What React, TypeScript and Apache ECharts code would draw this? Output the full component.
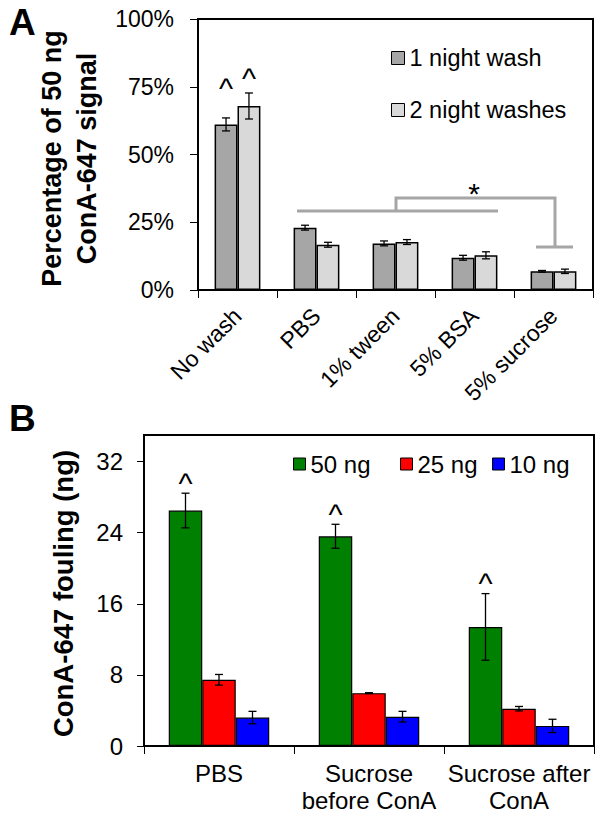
import React, { useEffect, useRef } from 'react';
import * as echarts from 'echarts';

const FONT = '"Liberation Sans", Arial, Helvetica, sans-serif';

// ---- Panel A data ----
const categoriesA = ['No wash', 'PBS', '1% tween', '5% BSA', '5% sucrose'];
const seriesNamesA = ['1 night wash', '2 night washes'];
const oneNightWash = [61.1, 23.0, 17.2, 11.9, 6.9];
const oneNightWashErr = [2.4, 0.9, 0.9, 0.9, 0.3];
const twoNightWashes = [67.9, 16.7, 17.7, 12.8, 6.9];
const twoNightWashesErr = [4.8, 0.9, 0.9, 1.3, 0.8];
const caretOneNight = [1, 0, 0, 0, 0];
const caretTwoNight = [1, 0, 0, 0, 0];
const yTicksA = [0, 25, 50, 75, 100];

// ---- Panel B data ----
const categoriesB = ['PBS', 'Sucrose\nbefore ConA', 'Sucrose after\nConA'];
const seriesNamesB = ['50 ng', '25 ng', '10 ng'];
const ng50 = [26.5, 23.6, 13.4];
const ng50Err = [1.95, 1.35, 3.75];
const ng25 = [7.45, 5.95, 4.2];
const ng25Err = [0.6, 0.05, 0.25];
const ng10 = [3.2, 3.3, 2.26];
const ng10Err = [0.7, 0.6, 0.75];
const caret50 = [1, 1, 1];
const caret25 = [0, 0, 0];
const caret10 = [0, 0, 0];
const yTicksB = [0, 8, 16, 24, 32];

const GAP_A = 0.42;
const GAP_B = 0.33;
const LEGEND_B_LEFT = [293, 400, 492];

function makeRender(gapFrac: number, lift: (si: number) => number) {
  return (params: any, api: any) => {
    const ci = api.value(0);
    const v = api.value(1);
    const e = api.value(2);
    const si = api.value(3);
    const n = api.value(4);
    const caret = api.value(5);
    const c = api.coord([ci, v]);
    const bandW = api.size([1, 0])[0];
    const groupW = bandW * (1 - gapFrac);
    const bw = groupW / n;
    const x = c[0] - groupW / 2 + bw * (si + 0.5);
    const yTop = api.coord([ci, v + e])[1];
    const yBot = api.coord([ci, v - e])[1];
    const style = { stroke: '#000', lineWidth: 1.3 };
    const children: any[] = [
      { type: 'line', shape: { x1: x, y1: yTop, x2: x, y2: yBot }, style },
      { type: 'line', shape: { x1: x - 4, y1: yTop, x2: x + 4, y2: yTop }, style },
      { type: 'line', shape: { x1: x - 4, y1: yBot, x2: x + 4, y2: yBot }, style },
    ];
    if (caret) {
      children.push({
        type: 'text',
        x,
        y: yTop - lift(si) + 5,
        style: {
          text: '^',
          fill: '#000',
          font: `30px ${FONT}`,
          textAlign: 'center',
          textVerticalAlign: 'middle',
          align: 'center',
          verticalAlign: 'middle',
        },
      });
    }
    return { type: 'group', children };
  };
}

export default function App() {
  const ref = useRef<HTMLDivElement>(null);

  useEffect(() => {
    const chart = echarts.init(ref.current!, null, { renderer: 'svg' });

    const valsA = [oneNightWash, twoNightWashes];
    const errsA = [oneNightWashErr, twoNightWashesErr];
    const caretsA = [caretOneNight, caretTwoNight];
    const errDataA: number[][] = [];
    valsA.forEach((vals, si) =>
      vals.forEach((v, ci) => errDataA.push([ci, v, errsA[si][ci], si, 2, caretsA[si][ci]]))
    );

    const valsB = [ng50, ng25, ng10];
    const errsB = [ng50Err, ng25Err, ng10Err];
    const caretsB = [caret50, caret25, caret10];
    const errDataB: number[][] = [];
    valsB.forEach((vals, si) =>
      vals.forEach((v, ci) => errDataB.push([ci, v, errsB[si][ci], si, 3, caretsB[si][ci]]))
    );

    const colorsA = ['#a6a6a6', '#d9d9d9'];
    const colorsB = ['#008000', '#ff0000', '#0000ff'];

    const axisLine = { show: true, lineStyle: { color: '#000', width: 2 } };
    const tickStyle = { color: '#000', width: 1 };
    const labelBase = { color: '#000', fontFamily: FONT, fontSize: 23 };
    const grey = { stroke: '#a6a6a6', lineWidth: 3 };

    const legendBase = {
      orient: 'vertical',
      padding: 0,
      icon: 'rect',
      itemStyle: { borderColor: '#000', borderWidth: 1 },
      textStyle: { color: '#000', fontFamily: FONT, fontSize: 23.5, lineHeight: 22 },
    };

    const option: any = {
      animation: false,
      backgroundColor: '#fff',
      textStyle: { fontFamily: FONT },
      grid: [
        { left: 198, top: 19, width: 395, height: 271, show: true, borderColor: '#000', borderWidth: 2, outerBoundsMode: 'none', containLabel: false },
        { left: 144, top: 435, width: 450, height: 311, show: true, borderColor: '#000', borderWidth: 2, outerBoundsMode: 'none', containLabel: false },
      ],
      legend: [
        {
          ...legendBase,
          data: seriesNamesA,
          left: 391,
          top: 46,
          itemWidth: 13,
          itemHeight: 13,
          itemGap: 28,
        },
        ...seriesNamesB.map((name, i) => ({
          ...legendBase,
          data: [name],
          left: LEGEND_B_LEFT[i],
          top: 452,
          itemWidth: 12,
          itemHeight: 12,
          textStyle: { ...legendBase.textStyle, fontSize: 24 },
        })),
      ],
      xAxis: [
        {
          type: 'category',
          gridIndex: 0,
          data: categoriesA,
          axisLine,
          axisTick: { show: true, length: 8, lineStyle: tickStyle, interval: 0 },
          axisLabel: { ...labelBase, rotate: 45, interval: 0, margin: 22, padding: [31, 0, 0, 0] },
          splitLine: { show: false },
        },
        {
          type: 'category',
          gridIndex: 1,
          data: categoriesB,
          axisLine,
          axisTick: { show: true, length: 8, lineStyle: tickStyle, interval: 0 },
          axisLabel: { ...labelBase, fontSize: 24, interval: 0, margin: 14, lineHeight: 27 },
          splitLine: { show: false },
        },
      ],
      yAxis: [
        {
          type: 'value',
          gridIndex: 0,
          min: yTicksA[0],
          max: yTicksA[yTicksA.length - 1],
          interval: yTicksA[1] - yTicksA[0],
          axisLine,
          axisTick: { show: true, length: 8, lineStyle: tickStyle },
          axisLabel: { ...labelBase, margin: 24, formatter: (v: number) => `${v}%` },
          splitLine: { show: false },
          name: 'Percentage of 50 ng\nConA-647 signal',
          nameLocation: 'middle',
          nameGap: 82,
          nameTextStyle: { color: '#000', fontFamily: FONT, fontSize: 27, fontWeight: 'bold', lineHeight: 35, padding: [0, 8, 0, 0] },
        },
        {
          type: 'value',
          gridIndex: 1,
          min: 0,
          max: 35,
          interval: 8,
          axisLine,
          axisTick: { show: true, length: 7, lineStyle: tickStyle, customValues: yTicksB },
          axisLabel: {
            ...labelBase,
            fontSize: 24,
            margin: 21,
            customValues: yTicksB,
            formatter: (v: number) => (yTicksB.includes(v) ? String(v) : ''),
          },
          splitLine: { show: false },
          name: 'ConA-647 fouling (ng)',
          nameLocation: 'middle',
          nameGap: 66,
          nameTextStyle: { color: '#000', fontFamily: FONT, fontSize: 27.5, fontWeight: 'bold', lineHeight: 30, padding: [0, 6, 0, 0] },
        },
      ],
      series: [
        ...valsA.map((vals, si) => ({
          type: 'bar',
          name: seriesNamesA[si],
          xAxisIndex: 0,
          yAxisIndex: 0,
          data: vals,
          barGap: '0%',
          barCategoryGap: `${GAP_A * 100}%`,
          itemStyle: { color: colorsA[si], borderColor: '#000', borderWidth: 1.5 },
        })),
        {
          type: 'custom',
          name: 'errA',
          xAxisIndex: 0,
          yAxisIndex: 0,
          data: errDataA,
          encode: { x: 0, y: 1 },
          z: 5,
          renderItem: makeRender(GAP_A, (si) => (si === 0 ? 34 : 19)),
        },
        ...valsB.map((vals, si) => ({
          type: 'bar',
          name: seriesNamesB[si],
          xAxisIndex: 1,
          yAxisIndex: 1,
          data: vals,
          barGap: '0%',
          barCategoryGap: `${GAP_B * 100}%`,
          itemStyle: { color: colorsB[si], borderColor: '#000', borderWidth: 1.2 },
        })),
        {
          type: 'custom',
          name: 'errB',
          xAxisIndex: 1,
          yAxisIndex: 1,
          data: errDataB,
          encode: { x: 0, y: 1 },
          z: 5,
          renderItem: makeRender(GAP_B, () => 15),
        },
      ],
      graphic: [
        { type: 'text', x: 9, y: 4, style: { text: 'A', font: `bold 37px ${FONT}`, fill: '#000' } },
        { type: 'text', x: 9, y: 400, style: { text: 'B', font: `bold 37px ${FONT}`, fill: '#000' } },
        { type: 'line', shape: { x1: 297, y1: 211, x2: 498, y2: 211 }, style: grey },
        { type: 'polyline', shape: { points: [[396, 211], [396, 198], [555, 198], [555, 247]] }, style: { ...grey, fill: null } },
        { type: 'line', shape: { x1: 536, y1: 247, x2: 573, y2: 247 }, style: grey },
        {
          type: 'text',
          x: 474,
          y: 193,
          style: { text: '*', font: `30px ${FONT}`, fill: '#000', textAlign: 'center', textVerticalAlign: 'middle', align: 'center', verticalAlign: 'middle' },
        },
      ],
    };

    chart.setOption(option);
    return () => chart.dispose();
  }, []);

  return <div ref={ref} style={{ position: 'absolute', left: 0, top: 0, width: 604, height: 821 }} />;
}
